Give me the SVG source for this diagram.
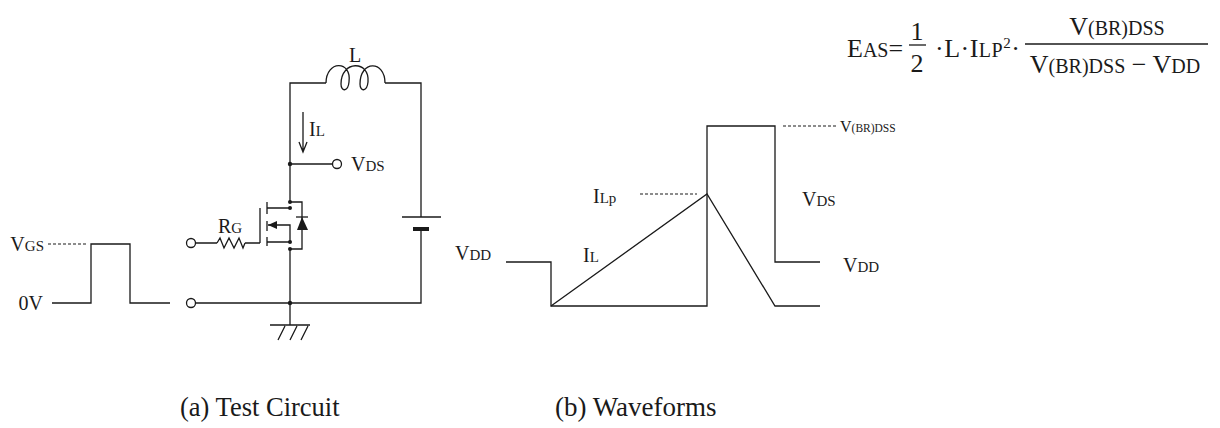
<svg xmlns="http://www.w3.org/2000/svg" width="1220" height="428" viewBox="0 0 1220 428">
<style>
.w{fill:none;stroke:#1a1a1a;stroke-width:1.3}
.d{fill:none;stroke:#1a1a1a;stroke-width:1.1;stroke-dasharray:3 2}
.t{font-family:"Liberation Serif","Times New Roman",serif;fill:#1a1a1a;font-size:20px}
.s{font-size:15px}
.f{font-family:"Liberation Serif","Times New Roman",serif;fill:#1a1a1a;font-size:26px}
.fs{font-size:20px}
.dot{fill:#1a1a1a}
</style>
<rect width="1220" height="428" fill="#fff"/>

<g id="connectors">
  <path class="w" d="M290,202 V83 H326 M385,83 H421 V217 M421,229 V303 H195.5 M290,303 V325"/>
  <path class="w" d="M290,164 H332.5"/>
  <path class="w" d="M290,249 V303"/>
  <path class="w" d="M195.5,243 H217 M245,243 H260"/>
</g>

<g id="inductor">
  <path class="w" d="M326,83 C326,60 352,60 349,82 C348,92 341,92 341,84 C341,60 370,60 368,82 C367,92 360,92 360,84 C360,60 385,60 385,83"/>
  <text class="t" x="349" y="62">L</text>
</g>

<g id="current-arrow">
  <path class="w" d="M303,112 V152 M299,142 L303,152 L307,142"/>
  <text class="t" x="309" y="136">I<tspan class="s">L</tspan></text>
</g>

<g id="vds-terminal">
  <circle cx="290" cy="164" r="2.2" class="dot"/>
  <circle cx="337" cy="164" r="4.5" fill="#fff" stroke="#1a1a1a" stroke-width="1.3"/>
  <text class="t" x="351" y="171">V<tspan class="s">DS</tspan></text>
</g>

<g id="mosfet">
  <path class="w" d="M260,208 V243"/>
  <path class="w" d="M267,202 V214 M267,221 V231 M267,237 V246"/>
  <path class="w" d="M267,208 H290 M268,225 H290 V242 M267,242 H290"/>
  <path class="w" d="M290,202 H302 V249 H290"/>
  <polygon points="268,225 277,221 277,229" class="dot"/>
  <polygon points="302,217 297,230 308,230" class="dot"/>
  <path class="w" d="M296,217 H308"/>
  <circle cx="290" cy="202" r="2" class="dot"/>
  <circle cx="290" cy="208" r="2" class="dot"/>
  <circle cx="290" cy="242" r="2" class="dot"/>
  <circle cx="290" cy="249" r="2" class="dot"/>
</g>

<g id="gate-resistor">
  <circle cx="191" cy="243" r="4.5" fill="#fff" stroke="#1a1a1a" stroke-width="1.3"/>
  <polyline class="w" points="217,243 220,238 224,248 229,238 234,248 239,238 243,248 245,243"/>
  <text class="t" x="218" y="233">R<tspan class="s">G</tspan></text>
</g>

<g id="source-terminal">
  <circle cx="191" cy="303" r="4.5" fill="#fff" stroke="#1a1a1a" stroke-width="1.3"/>
  <circle cx="290" cy="303" r="2.2" class="dot"/>
</g>

<g id="ground">
  <path class="w" d="M270,325 H310 M285,326 L278,340 M297,326 L290,340 M308,326 L301,340"/>
</g>

<g id="battery">
  <path class="w" d="M402,217 H441"/>
  <path d="M413,229 H429" stroke="#1a1a1a" stroke-width="4"/>
  <text class="t" x="455" y="260">V<tspan class="s">DD</tspan></text>
</g>

<g id="vgs-pulse">
  <text class="t" x="44" y="251" text-anchor="end">V<tspan class="s">GS</tspan></text>
  <path class="d" d="M48,244 H86"/>
  <path class="w" d="M52,303 H91 V244 H130 V303 H170"/>
  <text class="t" x="43" y="310" text-anchor="end">0V</text>
</g>

<g id="waveforms">
  <path class="w" d="M506,262 H551 V306 H707 V126 H775 V262 H820"/>
  <path class="w" d="M551,306 L707,194 L775,306 H820"/>
  <path class="d" d="M640,194 H697"/>
  <path class="d" d="M783,126 H838"/>
  <text class="t" x="593" y="203">I<tspan class="s">L</tspan><tspan class="s">p</tspan></text>
  <text class="t" x="583" y="262">I<tspan class="s">L</tspan></text>
  <text class="t" x="802" y="206">V<tspan class="s">DS</tspan></text>
  <text class="t" x="843" y="272">V<tspan class="s">DD</tspan></text>
  <text class="t" x="840" y="132" style="font-size:16px">V<tspan style="font-size:11.5px">(BR)DSS</tspan></text>
</g>

<g id="formula">
  <text class="f" x="847" y="57">E<tspan class="fs">AS</tspan>=</text>
  <text class="f" x="917" y="40" text-anchor="middle">1</text>
  <path class="w" d="M909,45 H926"/>
  <text class="f" x="917" y="72" text-anchor="middle">2</text>
  <text class="f" x="935" y="57" letter-spacing="0.5">·L·I<tspan class="fs">LP</tspan><tspan style="font-size:15px" dy="-9">2</tspan><tspan dy="9">·</tspan></text>
  <text class="f" x="1117" y="35" text-anchor="middle">V<tspan class="fs">(BR)DSS</tspan></text>
  <path class="w" d="M1025,44 H1208"/>
  <text class="f" x="1115" y="73" text-anchor="middle">V<tspan class="fs">(BR)DSS</tspan> − V<tspan class="fs">DD</tspan></text>
</g>

<g id="captions">
  <text class="t" x="180" y="416" style="font-size:26.5px">(a) Test Circuit</text>
  <text class="t" x="555" y="416" style="font-size:27px">(b) Waveforms</text>
</g>
</svg>
